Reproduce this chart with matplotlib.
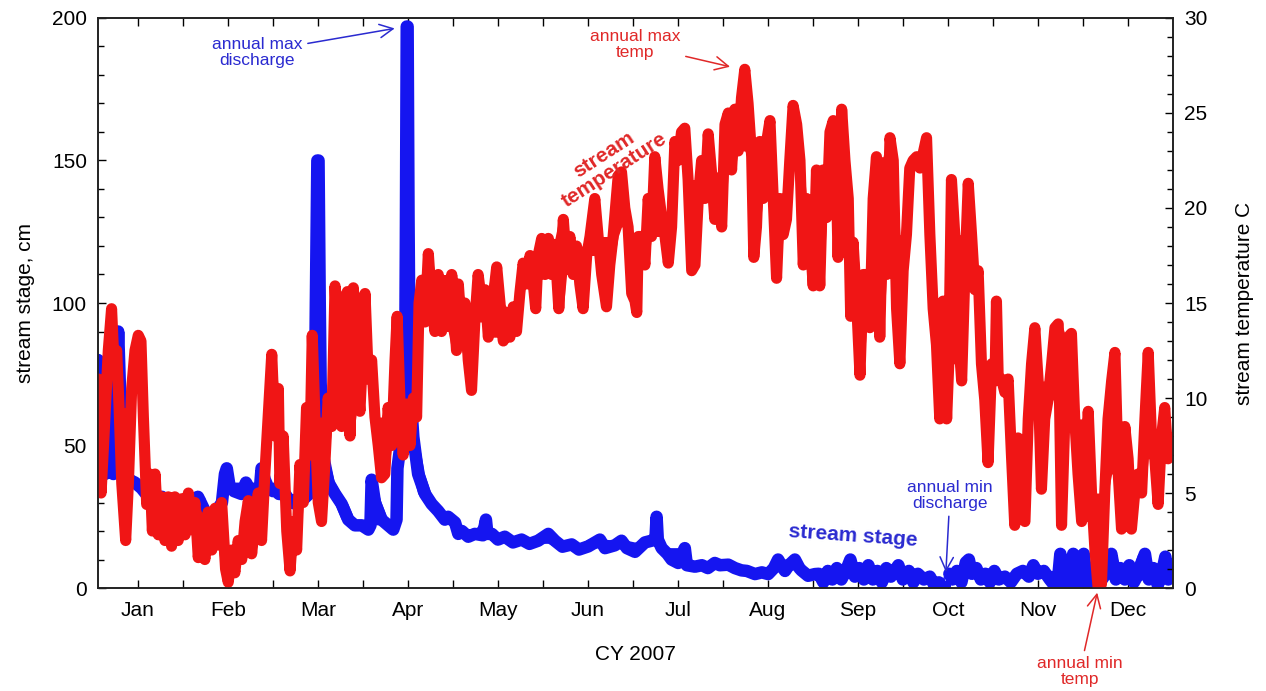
import matplotlib
matplotlib.use('Agg')
import numpy as np
import matplotlib.pyplot as plt
from matplotlib.ticker import MultipleLocator, FixedLocator

plt.rcParams['font.family'] = ['Liberation Sans', 'DejaVu Sans']

# day of year (CY 2007) -> stream temperature, C (daily swings)
temp_day = [1.8, 2.7, 4.0, 5.1, 6.2, 7.1, 7.9, 8.7, 9.6, 10.9, 11.8, 12.9, 14.0, 15.1, 16.0, 16.8,
            17.9, 19.0, 19.8, 20.7, 21.8, 22.9, 24.0, 25.1, 26.2, 27.3, 28.4, 29.6, 30.7, 31.8,
            32.9, 34.0, 35.1, 36.2, 37.3, 38.4, 39.6, 40.7, 41.8, 42.9, 44.2, 45.1, 46.2, 47.3,
            48.4, 49.6, 50.7, 51.8, 52.9, 54.0, 55.1, 56.2, 57.3, 58.4, 59.6, 60.7, 61.8,
            62.3, 63.4, 64.6, 65.7, 66.8, 67.9, 69.0, 70.1, 71.2, 72.3, 73.1, 74.0, 75.1, 76.2,
            77.3, 78.4, 79.6, 80.7, 81.8, 82.9, 84.0, 84.8, 85.7, 86.8, 87.9, 89.0, 89.8, 90.7,
            91.8, 92.9, 94.0, 95.1, 96.2, 97.3, 98.4, 99.6, 100.7, 101.4, 102.3, 103.4, 104.6,
            105.7, 106.8, 107.9, 108.7, 109.6, 110.7, 111.8, 112.9, 114.0, 115.1, 116.2, 117.3,
            118.4, 119.6, 121.2,
            121.8, 122.9, 124.0, 125.1, 126.2, 127.3, 128.4, 129.6, 130.7, 131.8, 132.9, 134.6,
            135.7, 136.8, 137.9, 139.0, 140.1, 141.2, 142.3, 143.4, 144.6, 145.7, 146.8, 147.6,
            148.4, 149.6, 150.7, 151.8, 152.9, 154.0, 155.3, 156.8, 157.9, 159.0, 160.1, 161.2,
            162.3, 163.4, 164.6, 165.7, 167.3, 168.4, 169.6, 171.2, 172.3, 173.4, 175.1, 176.2,
            177.3, 178.4, 179.6, 180.7, 181.3, 181.8,
            182.9, 184.0, 185.1, 186.2, 187.3, 188.4, 189.6, 190.7, 191.8, 192.9, 194.0, 195.1,
            196.2, 197.3, 198.4, 199.6, 200.7, 201.8, 202.9, 204.0, 205.1, 206.2, 207.3, 208.4,
            209.6, 210.7, 211.8, 212.9, 214.0, 215.1, 216.2, 217.3, 218.4, 219.6, 220.3, 221.2,
            222.3, 223.4, 224.6, 225.7, 226.8, 227.9, 229.0, 230.1, 231.2, 232.3, 233.4, 234.6,
            235.7, 236.8, 237.9, 239.0, 240.1, 241.2,
            241.8, 242.3, 243.4, 244.6, 245.7, 246.8, 247.9, 248.4, 249.6, 250.7, 251.8, 252.6,
            253.4, 254.6, 255.7, 256.8, 257.9, 259.0, 260.1, 261.2, 262.3, 263.4, 264.6, 265.7,
            266.8, 267.9, 269.0, 270.1, 271.2, 272.3, 273.4, 274.6, 275.7, 276.8, 277.9, 279.0,
            280.1, 281.2, 282.3, 283.4, 284.6, 285.3, 286.2, 287.3, 288.4, 289.6, 290.7, 291.8,
            292.9, 294.0, 295.1, 296.2, 297.3, 298.4, 299.6, 300.7, 301.2,
            301.8, 302.9, 304.0, 305.1, 306.2, 307.3, 308.4, 309.6, 310.7, 311.8, 312.9, 314.0,
            315.1, 316.2, 317.3, 318.4, 319.6, 320.7, 321.8, 322.9, 324.0, 325.1, 326.2, 327.3,
            328.4, 329.6, 330.7, 331.8, 332.9, 334.0, 335.1, 336.2, 337.3, 338.4, 339.6, 340.7,
            341.8, 342.9, 344.0, 345.1, 346.2, 347.3, 348.4, 349.6, 350.7, 351.8, 352.9, 354.0,
            355.1, 356.2, 357.3, 358.4, 359.6]
temp_c = [11.0, 5.0, 9.0, 12.5, 14.7, 11.5, 12.5, 9.5, 5.5, 2.5, 5.5, 10.5, 12.5, 13.3, 13.0, 9.0,
          4.4, 6.0, 3.0, 6.0, 2.8, 4.8, 2.5, 4.8, 2.2, 4.8, 2.5, 4.7, 2.8, 5.0,
          3.5, 4.5, 1.6, 3.5, 1.5, 4.0, 2.0, 4.2, 3.0, 4.5, 1.0, 0.3, 2.0, 0.8,
          2.5, 1.5, 3.5, 4.6, 1.8, 3.5, 5.0, 2.5, 6.0, 9.0, 12.3, 8.0, 10.5,
          5.5, 8.0, 3.0, 0.9, 3.5, 2.0, 6.5, 4.5, 9.5, 7.0, 13.3, 9.0, 4.5, 3.5,
          6.5, 10.0, 8.5, 15.9, 12.0, 8.5, 12.5, 15.6, 8.0, 15.8, 11.5, 9.3, 12.0, 15.5,
          11.0, 12.0, 9.0, 7.5, 5.8, 6.0, 9.5, 7.5, 12.0, 14.3, 10.0, 7.0, 9.5,
          7.5, 10.0, 9.0, 15.0, 16.2, 14.0, 17.6, 15.0, 13.5, 16.5, 13.5, 16.0,
          14.5, 16.5, 12.5,
          16.0, 13.5, 15.0, 12.0, 10.4, 14.0, 16.5, 15.0, 15.7, 13.2, 14.5, 16.9,
          15.0, 13.0, 14.5, 13.2, 14.8, 13.5, 15.5, 17.1, 16.0, 17.5, 16.0, 14.7,
          17.5, 18.4, 16.5, 18.4, 16.5, 18.0, 14.7, 19.4, 17.0, 18.5, 16.5, 18.0,
          16.0, 14.7, 17.5, 18.5, 20.5, 18.5, 16.5, 14.8, 17.0, 18.5, 21.7, 21.9,
          20.0, 19.0, 15.5, 15.1, 14.5, 18.5,
          18.5, 17.0, 20.5, 18.5, 22.7, 21.0, 19.5, 18.5, 17.1, 19.0, 23.5, 22.5,
          24.0, 24.2, 21.5, 16.7, 17.0, 20.5, 22.5, 20.5, 23.9, 21.9, 19.4, 21.0,
          19.0, 24.4, 25.0, 22.0, 25.2, 23.0, 25.8, 27.3, 25.5, 22.7, 17.4, 19.0,
          23.5, 20.5, 23.5, 24.6, 20.5, 16.3, 20.5, 18.6, 19.4, 22.5, 25.4, 24.4,
          22.5, 17.0, 20.5, 18.6, 15.9, 22.0,
          18.0, 15.9, 22.0, 19.5, 24.0, 24.6, 21.0, 17.4, 25.2, 22.5, 20.5, 14.3,
          18.2, 15.0, 11.2, 16.5, 16.5, 13.7, 20.5, 22.7, 13.2, 20.5, 16.5, 23.7,
          22.5, 14.7, 11.8, 16.7, 18.6, 22.1, 22.5, 22.7, 22.1, 22.9, 23.7, 18.6,
          14.7, 12.8, 8.9, 15.1, 8.9, 11.8, 21.5, 18.6, 13.7, 10.9, 16.7, 21.3,
          18.6, 15.7, 16.7, 11.8, 9.9, 6.6, 11.8, 10.9, 15.1,
          11.0, 11.0, 10.3, 11.0, 7.0, 3.3, 7.9, 3.7, 3.5, 8.9, 11.8, 13.7,
          10.9, 5.2, 8.9, 9.9, 11.8, 13.7, 13.9, 3.3, 8.9, 13.2, 13.4, 8.9,
          6.0, 3.5, 5.0, 9.3, 5.0, 2.1, 0.0, 0.2, 5.0, 8.9, 10.9, 12.4,
          6.0, 3.1, 8.5, 6.8, 3.1, 5.0, 6.0, 5.0, 8.9, 12.4, 7.9, 6.8,
          4.4, 7.9, 9.5, 6.8, 7.9]

# day of year -> stream stage, cm (nan = no record)
stage_day = [1.7, 2.2, 3.0, 4.0, 5.5, 6.8, 7.5, 8.4, 9.0, 9.6, 10.7, 12.0, 14.0, 16.2, 18.5,
             21.0, 23.0, 25.0, 27.0, 29.0, 31.0, 33.0, 35.0, 37.3, 38.5, 40.5, 41.8, 43.0,
             44.0, 44.6, 45.5, 47.0, 49.5, 51.0, 52.5, 54.0, 55.5, 56.2, 57.3, 58.5, 60.0, 61.0,
             62.0, 64.0, 66.0, 68.0, 70.0, 72.0, 73.0, 73.8, 74.3, 74.8, 75.2, 75.6, 75.9,
             76.8, 78.5, 80.7, 82.9, 85.1, 87.3, 89.6, 91.8, 92.5, 92.9, 94.0, 96.2, 98.4,
             100.1, 101.2, 101.5, 102.5, 103.4, 104.0, 104.3, 104.6, 104.9, 105.2, 105.6,
             106.8, 108.4, 110.7, 112.9, 115.1, 117.3, 118.4, 120.7,
             121.8, 123.0, 125.1, 127.3, 130.0, 131.0, 131.5, 133.0, 135.0, 137.3, 140.0,
             142.9, 145.5, 148.4, 151.8, 154.0, 156.5, 159.6, 162.0, 165.1, 169.0, 170.7,
             174.0, 176.2, 178.0, 180.7,
             182.0, 184.0, 186.2, 187.5, 187.9, 188.3, 189.6, 191.5, 192.9, 195.1, 197.3,
             198.0, 200.7, 203.0, 205.0, 207.3, 209.0, 211.8, 214.0, 216.2, 218.0, 220.7,
             223.0, 225.1, 227.0, 228.4, 229.5, 230.7, 232.0, 234.0, 235.5, 236.2, 238.4, 240.7,
             242.0, 243.5, 245.0, 246.5, 248.0, 249.5, 251.0, 252.5, 254.0, 255.5, 257.0,
             258.5, 260.0, 261.5, 263.0, 264.5, 266.0, 268.5, 270.0, 272.0, 273.5, 275.0,
             277.0, 279.0, 280.5, 282.0, 283.0, 284.0, 284.8, 285.5, 286.5, 288.0, 289.5,
             291.0, 292.0, 293.0, 294.5, 296.0, 297.5, 299.0, 300.5,
             302.0, 304.0, 306.0, 308.0, 310.0, 312.0, 313.5, 315.0, 317.0, 319.0, 320.5,
             321.5, 322.5, 323.5, 325.0, 326.8, 328.0, 329.0, 330.3, 331.5, 333.0, 335.0,
             337.0, 338.5, 339.5, 341.0, 342.5, 344.0, 345.5, 347.0, 348.5, 350.7, 352.0,
             353.5, 355.0, 356.5, 357.5, 358.5, 359.6]
stage_cm = [80, 72, 45, 40, 42, 40, 60, 90, 70, 55, 42, 38, 37, 35, 32,
            31, 32, 30, 31, 29.5, 29, 31, 32, 27, 23, 23, 28, 30,
            40, 42, 36, 34, 33, 37, 34, 32, 33, 42, 38, 35, 34, 35,
            33, 33, 30, 29.5, 31, 33, 36, 45, 100, 150, 150, 100, 72,
            46, 37, 33, 29.5, 24, 22, 22, 20.5, 22, 38, 30, 24, 22,
            20.5, 24, 42, 50, 48, 60, 120, 197, 197, 130, 72,
            53, 40, 33, 29.5, 27, 24, 25, 23,
            19, 20, 18, 19, 18.5, 24, 19, 19, 17, 18, 16,
            17, 15.5, 16.6, 19, 16.6, 14.5, 15.3, 13.5, 14.6, 17, 14,
            15, 16.6, 14, 12.7,
            14, 16, 16.6, 17, 25, 17, 14, 12, 10, 8.8, 14,
            8, 7.5, 8, 7, 8.8, 8, 8.2, 7, 6.2, 6, 4.9,
            5.5, 4.9, 7, 10, 8, 6, 8, 10, 7, 6.2, 4.3, 4.9,
            5, 2, 6, 3, 7, 3, 6, 10, 4, 7, 3,
            8, 3, 6, 2, 7, 4, 8, 3, 6, 2, 5,
            3, 4, 1, 2, 0.5, 0.3, np.nan, 5, 3, 6, 2,
            9, 10, 5, 7, 3, 5, 2, 6,
            3, 4, 2, 5, 6, 4, 8, 5, 6, 3, 1,
            0.5, 12, 1, 0.5, 12, 1, 0.5, 12, 1, 0.5, 1,
            4, 7, 12, 3, 7, 3, 8, 2, 5, 12, 3,
            7, 1, 6, 11, 3, 4]

month_labels = ['Jan', 'Feb', 'Mar', 'Apr', 'May', 'Jun', 'Jul', 'Aug', 'Sep', 'Oct', 'Nov', 'Dec']
label_days = [15 + 30 * i for i in range(12)]
minor_days = [30 + 30 * i for i in range(11)]

blue = '#1515f0'
red = '#f01515'
txt_blue = '#2a2ad0'
txt_red = '#e02828'


# band covered by the dense (hourly) record around each reading:
# neighbours' min/max, widened to the 2nd highest/lowest of the +-2 readings
def band(values):
    v = np.asarray(values, dtype=float)
    p = np.concatenate([[v[0]] * 2, v, [v[-1]] * 2])
    n = len(v)
    s5 = np.vstack([p[k:k + n] for k in range(5)])
    s3 = s5[1:4]
    srt = np.sort(np.where(np.isnan(s5), np.nanmean(v), s5), axis=0)
    lo = np.minimum(np.nanmin(s3, axis=0), srt[1])
    hi = np.maximum(np.nanmax(s3, axis=0), srt[-2])
    lo[np.isnan(v)] = np.nan
    hi[np.isnan(v)] = np.nan
    return lo, hi


fig = plt.figure(figsize=(12.66, 6.91), dpi=100)
ax = fig.add_axes([0.0774, 0.149, 0.849, 0.825])
ax2 = ax.twinx()

s_lo, s_hi = band(stage_cm)
ax.fill_between(stage_day, s_lo, s_hi, color=blue, lw=0)
ax.plot(stage_day, stage_cm, color=blue, lw=9, solid_joinstyle='round', solid_capstyle='round')

t_lo, t_hi = band(temp_c)
ax2.fill_between(temp_day, t_lo, t_hi, color=red, lw=0)
ax2.plot(temp_day, temp_c, color=red, lw=8, solid_joinstyle='round', solid_capstyle='round')

ax.set_xlim(1.67, 360)
ax.set_ylim(0, 200)
ax2.set_ylim(0, 30)

ax.xaxis.set_major_locator(FixedLocator(label_days))
ax.xaxis.set_minor_locator(FixedLocator(minor_days))
ax.set_xticklabels(month_labels)
ax.yaxis.set_major_locator(MultipleLocator(50))
ax.yaxis.set_minor_locator(MultipleLocator(10))
ax2.yaxis.set_major_locator(MultipleLocator(5))
ax2.yaxis.set_minor_locator(MultipleLocator(1))

ax.tick_params(axis='x', which='both', direction='in', top=True, length=6, width=1, pad=9, labelsize=15)
ax.tick_params(axis='y', which='major', direction='in', length=6, width=1, pad=8, labelsize=15)
ax.tick_params(axis='y', which='minor', direction='in', length=4, width=1)
ax2.tick_params(axis='y', which='major', direction='in', length=6, width=1, pad=8, labelsize=15)
ax2.tick_params(axis='y', which='minor', direction='in', length=4, width=1)
for a in (ax, ax2):
    for s in a.spines.values():
        s.set_linewidth(1.2)
        s.set_color('#222222')

ax.set_ylabel('stream stage, cm', fontsize=15, labelpad=12)
ax2.set_ylabel('stream temperature C', fontsize=15, labelpad=20)
ax.set_xlabel('CY 2007', fontsize=15, labelpad=18)

arrow_b = dict(arrowstyle='->', color=txt_blue, lw=1.1, mutation_scale=24)
arrow_r = dict(arrowstyle='->', color=txt_red, lw=1.1, mutation_scale=24)

ax.annotate('annual max\ndischarge', xy=(101.5, 196.5), xytext=(54.7, 188), color=txt_blue,
            fontsize=12.5, ha='center', va='center', linespacing=1.1, arrowprops=arrow_b)
ax.annotate('annual min\ndischarge', xy=(284.3, 4.6), xytext=(285.7, 32.6), color=txt_blue,
            fontsize=12.5, ha='center', va='center', linespacing=1.1, arrowprops=arrow_b)
ax2.annotate('annual max\ntemp', xy=(213.3, 27.4), xytext=(180.7, 28.6), color=txt_red,
             fontsize=12.5, ha='center', va='center', linespacing=1.1, arrowprops=arrow_r)
ax2.annotate('annual min\ntemp', xy=(335, -0.1), xytext=(329, -4.4), color=txt_red,
             fontsize=12.5, ha='center', va='center', linespacing=1.1, arrowprops=arrow_r,
             annotation_clip=False)

ax2.text(172, 22.4, 'stream\ntemperature', color=txt_red, fontsize=15, fontweight='bold',
         rotation=33, ha='center', va='center', linespacing=1.0, rotation_mode='anchor')
ax.text(253.3, 18.2, 'stream stage', color=txt_blue, fontsize=15, fontweight='bold',
        rotation=-4, ha='center', va='center', rotation_mode='anchor')

fig.savefig('out.png', dpi=100)
